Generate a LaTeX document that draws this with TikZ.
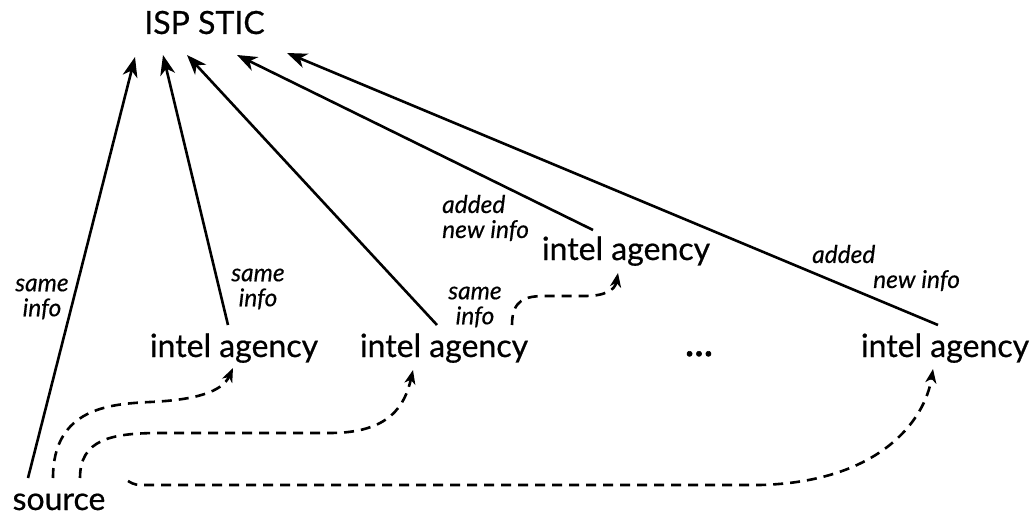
\documentclass[tikz,border=0pt]{standalone}
\usepackage{fontspec}
\setmainfont{Lato}
\newfontfamily\heavyfont[FakeBold=0.6]{Lato}
\newfontfamily\heavyital[FakeBold=0.4]{Lato Italic}
\newfontfamily\dotfont[FakeBold=1.5]{Lato}
\usetikzlibrary{arrows.meta,calc}
\begin{document}
\begin{tikzpicture}[x=1pt,y=-1pt,
  lbl/.style={inner sep=0pt,anchor=base,font=\heavyfont\fontsize{32}{36}\selectfont},
  note/.style={inner sep=0pt,font=\heavyital\fontsize{24.5}{25}\selectfont},
  feed/.style={line width=2.6pt,-{Stealth[length=20pt,width=15pt,inset=6pt]}},
  pass/.style={line width=2.6pt,dash pattern=on 10pt off 7pt,
    -{Stealth[length=14pt,width=11pt,inset=4pt]}}]
\useasboundingbox (0,0) rectangle (1036,516);

% agencies and the shared database
\node[lbl] (isp) at (204.5,34) {ISP STIC};
\node[lbl] (src) at (59,510) {source};
\node[lbl] (ag1) at (234,357) {intel agency};
\node[lbl] (ag2) at (444,357) {intel agency};
\node[lbl] (ag3) at (626,260) {intel agency};
\node[lbl,font=\dotfont\fontsize{40}{40}\selectfont] (dots) at (699,356) {...};
\node[lbl] (ag4) at (945,357) {intel agency};

% reports sent up to ISP STIC
\draw[feed] ($(src.base)+(-31,-32)$) -- ($(isp.base)+(-69.5,23)$);
\draw[feed] ($(ag1.base)+(-6,-32)$) -- ($(isp.base)+(-41.5,21)$);
\draw[feed] ($(ag2.base)+(-7,-32)$) -- ($(isp.base)+(-17.5,21)$);
\draw[feed] ($(ag3.base)+(-33,-30)$) -- ($(isp.base)+(32.5,21)$);
\draw[feed] ($(ag4.base)+(-7,-32)$) -- ($(isp.base)+(82.5,19)$);

% information passed between parties
\draw[pass] ($(src.base)+(-6,-32)$) .. controls +(0,-70) and (110,404) .. (150,402)
  .. controls (195,400) and (222,392) .. ($(ag1.base)+(-1,11)$);
\draw[pass] ($(src.base)+(21,-32)$) .. controls +(0,-38) and (110,433) .. (160,433)
  -- (330,433) .. controls (390,433) and (405,405) .. ($(ag2.base)+(-31,13)$);
\draw[pass] ($(src.base)+(69,-29)$) .. controls +(7,4) .. (150,485)
  -- (760,485) .. controls (880,482) and (925,420) .. ($(ag4.base)+(-12,12)$);
\draw[pass] ($(ag2.base)+(68,-32)$) .. controls +(0,-25) and (525,296) .. (545,296)
  -- (585,296) .. controls (605,296) and (615,290) .. ($(ag3.base)+(-8,13)$);

% labels on the reports
\node[note,align=center] (n1) at (42,299) {same\\info};
\node[note,align=center] (n2) at (258,289) {same\\info};
\node[note,align=center] (n3) at (475,307) {same\\info};
\node[note,align=left,anchor=west] (n4) at (442,218) {added\\new info};
\node[note,align=left,anchor=west] (n5) at (812,268) {added\\\hspace*{61pt}new info};
\end{tikzpicture}
\end{document}
